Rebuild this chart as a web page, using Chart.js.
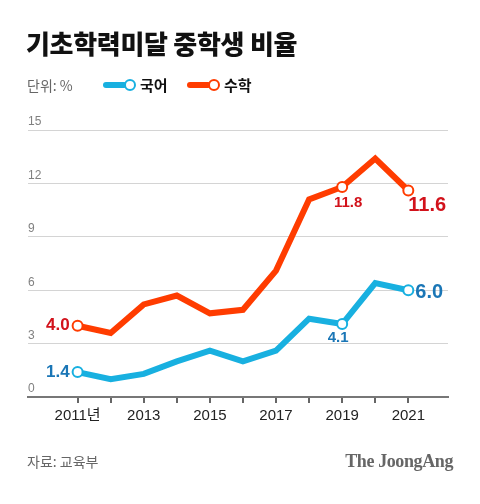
<!DOCTYPE html>
<html>
<head>
<meta charset="utf-8">
<script src="https://cdn.jsdelivr.net/npm/chart.js@4.4.1/dist/chart.umd.min.js"></script>
<style>
body { margin: 0; width: 480px; height: 504px; background: #fff; position: relative; overflow: hidden; font-family: "Noto Sans CJK KR", sans-serif; }
#chart { position: absolute; left: 0; top: 0; }
.txt { position: absolute; white-space: nowrap; }
#title { left: 26px; top: 28px; font-size: 26px; line-height: 30px; font-weight: 900; color: #111; letter-spacing: -0.3px; }
#unit { left: 27px; top: 75px; font-size: 14px; line-height: 20px; color: #666; }
.bar { position: absolute; height: 6px; border-radius: 3px; }
.dot { position: absolute; width: 8px; height: 8px; border-radius: 50%; background: #fff; border: 2px solid; }
.leg { top: 75px; font-size: 15px; line-height: 20px; font-weight: 700; color: #111; }
#source { left: 27px; top: 451px; font-size: 14px; line-height: 20px; color: #666; }
#brand { right: 27px; top: 450px; font-family: "Liberation Serif", serif; font-size: 18px; line-height: 22px; font-weight: 700; color: #666; letter-spacing: -0.4px; }
</style>
</head>
<body>
<canvas id="chart" width="480" height="504"></canvas>
<div class="txt" id="title">기초학력미달 중학생 비율</div>
<div class="txt" id="unit">단위: %</div>
<div class="bar" style="left:103px;top:82px;width:24px;background:#18b0e0"></div>
<div class="dot" style="left:124px;top:79px;border-color:#18b0e0"></div>
<div class="txt leg" style="left:140px">국어</div>
<div class="bar" style="left:187px;top:82px;width:24px;background:#ff3c00"></div>
<div class="dot" style="left:208px;top:79px;border-color:#ff3c00"></div>
<div class="txt leg" style="left:224px">수학</div>
<div class="txt" id="source">자료: 교육부</div>
<div class="txt" id="brand">The JoongAng</div>

<script>
// data
const years = [2011, 2012, 2013, 2014, 2015, 2016, 2017, 2018, 2019, 2020, 2021];
const korean = [1.4, 1.0, 1.3, 2.0, 2.6, 2.0, 2.6, 4.4, 4.1, 6.4, 6.0];
const math = [4.0, 3.6, 5.2, 5.7, 4.7, 4.9, 7.1, 11.1, 11.8, 13.4, 11.6];
const yTicks = [0, 3, 6, 9, 12, 15];
const labelled = [0, 8, 10];

const blue = "#18b0e0";
const red = "#ff3c00";
const blueText = "#1a76b6";
const redText = "#d2121b";

function toPoints(values) {
    return values.map((v, i) => ({ x: years[i], y: v }));
}

// where each value label goes, relative to its point
const labelStyle = {
    0: [{ dx: -8, dy: 0, align: "right", size: 17 }, { dx: -8, dy: 0, align: "right", size: 17 }],
    8: [{ dx: -4, dy: 14, align: "center", size: 15 }, { dx: 6, dy: 16, align: "center", size: 15 }],
    10: [{ dx: 7, dy: 2, align: "left", size: 20 }, { dx: 0, dy: 15, align: "left", size: 20 }]
};

const valueLabels = {
    id: "valueLabels",
    afterDatasetsDraw(chart) {
        const ctx = chart.ctx;
        chart.data.datasets.forEach((ds, d) => {
            const meta = chart.getDatasetMeta(d);
            labelled.forEach(i => {
                const pt = meta.data[i];
                const st = labelStyle[i][d];
                ctx.save();
                ctx.font = "bold " + st.size + "px 'Liberation Sans', Arial, sans-serif";
                ctx.fillStyle = d === 0 ? blueText : redText;
                ctx.textAlign = st.align;
                ctx.textBaseline = "middle";
                ctx.fillText(ds.data[i].y.toFixed(1), pt.x + st.dx, pt.y + st.dy);
                ctx.restore();
            });
        });
    }
};

function pointSize(c) {
    return labelled.includes(c.dataIndex) ? 5 : 0;
}

new Chart(document.getElementById("chart"), {
    type: "line",
    data: {
        datasets: [{
            label: "국어",
            data: toPoints(korean),
            borderColor: blue,
            borderWidth: 6,
            borderJoinStyle: "miter",
            pointRadius: pointSize,
            pointBackgroundColor: "#fff",
            pointBorderColor: blue,
            pointBorderWidth: 2
        }, {
            label: "수학",
            data: toPoints(math),
            borderColor: red,
            borderWidth: 6,
            borderJoinStyle: "miter",
            pointRadius: pointSize,
            pointBackgroundColor: "#fff",
            pointBorderColor: red,
            pointBorderWidth: 2
        }]
    },
    options: {
        responsive: false,
        animation: false,
        layout: { padding: { left: 28, right: 32, top: 130, bottom: 77 } },
        plugins: { legend: { display: false }, tooltip: { enabled: false } },
        scales: {
            x: {
                type: "linear",
                min: 2009.5,
                max: 2022.2,
                afterBuildTicks: scale => { scale.ticks = years.map(v => ({ value: v })); },
                afterFit: scale => { scale.height = 30; },
                border: { color: "#777", width: 2 },
                grid: { drawOnChartArea: false, drawTicks: true, tickLength: 6, color: "#666", lineWidth: 2 },
                ticks: {
                    padding: 4,
                    maxRotation: 0,
                    autoSkip: false,
                    color: "#222",
                    font: { family: "'Liberation Sans', Arial, 'Noto Sans CJK KR'", size: 15 },
                    callback: v => v === 2011 ? "2011년" : (v % 2 === 1 ? String(v) : "")
                }
            },
            y: {
                min: 0,
                max: 15,
                afterBuildTicks: scale => { scale.ticks = yTicks.map(v => ({ value: v })); },
                afterFit: scale => { scale.width = 0; },
                border: { display: false },
                grid: { color: "#d4d4d4", lineWidth: 1, drawTicks: false },
                ticks: {
                    mirror: true,
                    padding: 0,
                    labelOffset: -8,
                    color: "#808080",
                    font: { family: "'Liberation Sans', Arial, sans-serif", size: 12 }
                }
            }
        }
    },
    plugins: [valueLabels]
});
</script>
</body>
</html>
